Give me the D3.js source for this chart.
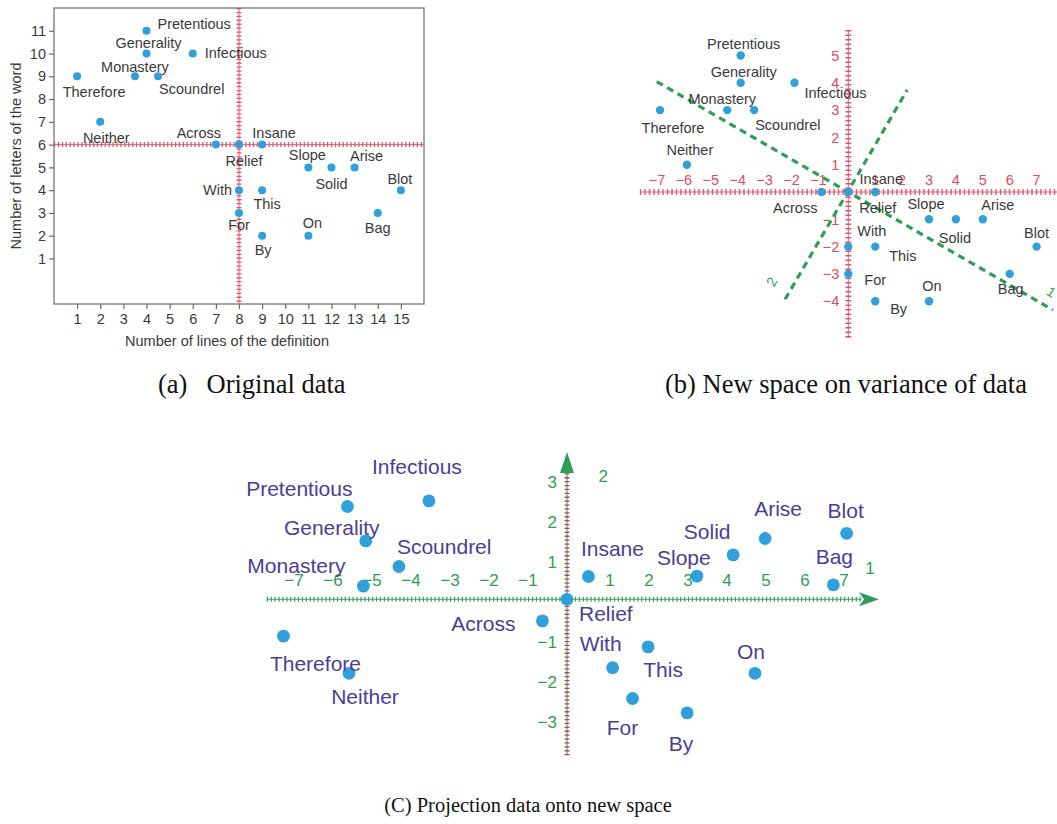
<!DOCTYPE html>
<html>
<head>
<meta charset="utf-8">
<script src="https://cdn.jsdelivr.net/npm/d3@7"></script>
<style>
  body { margin: 0; background: #fff; }
  svg { display: block; }
</style>
</head>
<body>
<svg id="fig" width="1057" height="824"></svg>
<script>
// ---------- data ----------
const words = ["Pretentious", "Generality", "Infectious", "Monastery", "Scoundrel",
  "Therefore", "Neither", "Across", "Relief", "Insane", "Slope", "Solid", "Arise",
  "Blot", "With", "This", "For", "By", "On", "Bag"];

// (a) raw measurements
const definitionLines = [4, 4, 6, 3.5, 4.5, 1, 2, 7, 8, 9, 11, 12, 13, 15, 8, 9, 8, 9, 11, 14];
const wordLetters     = [11, 10, 10, 9, 9, 9, 7, 6, 6, 6, 5, 5, 5, 4, 4, 4, 3, 2, 2, 3];

// (b) mean-centred values
const centredX = [-4, -4, -2, -4.5, -3.5, -7, -6, -1, 0, 1, 3, 4, 5, 7, 0, 1, 0, 1, 3, 6];
const centredY = [5, 4, 4, 3, 3, 3, 1, 0, 0, 0, -1, -1, -1, -2, -2, -2, -3, -4, -4, -3];

// principal directions drawn over (b), as end points in centred units
const pcAxis1 = [[-7.12, 4.04], [7.61, -4.32]];
const pcAxis2 = [[-2.35, -3.93], [2.19, 3.74]];

// (c) projections onto the principal components
const pc1Scores = [-5.63, -5.16, -3.54, -5.22, -4.31, -7.27, -5.59, -0.63, 0, 0.55,
  3.33, 4.26, 5.08, 7.17, 1.17, 2.08, 1.68, 3.08, 4.82, 6.83];
const pc2Scores = [2.32, 1.46, 2.46, 0.33, 0.82, -0.92, -1.85, -0.54, 0, 0.57,
  0.58, 1.11, 1.52, 1.65, -1.71, -1.19, -2.48, -2.84, -1.85, 0.36];

// tick labels
const ticksAX = d3.range(1, 16);
const ticksAY = d3.range(1, 12);
const ticksBX = [-7, -6, -5, -4, -3, -2, -1, 1, 2, 3, 4, 5, 6, 7];
const ticksBY = [-4, -3, -2, -1, 1, 2, 3, 4, 5];
const ticksCX = [-7, -6, -5, -4, -3, -2, -1, 1, 2, 3, 4, 5, 6, 7];
const ticksCY = [-3, -2, -1, 1, 2, 3];

const captions = ["(a)", "Original data", "(b) New space on variance of data",
  "(C) Projection data onto new space"];

// ---------- label placement (anchor, dx, dy) per word ----------
const placeA = {
  Pretentious: ["start", 11, -7], Generality: ["middle", 2, -11], Infectious: ["start", 12, -1],
  Monastery: ["middle", 0, -10], Scoundrel: ["start", 1, 12], Therefore: ["middle", 17, 15],
  Neither: ["middle", 6, 16], Across: ["middle", -17, -12], Relief: ["middle", 5, 16],
  Insane: ["middle", 12, -12], Slope: ["middle", -1, -13], Solid: ["middle", 0, 16],
  Arise: ["middle", 12, -12], Blot: ["middle", -1, -11], With: ["end", -7, 0],
  This: ["middle", 5, 14], For: ["middle", 0, 12], By: ["middle", 1, 14],
  On: ["middle", 4, -13], Bag: ["middle", 0, 15]
};
const placeB = {
  Pretentious: ["middle", 3, -12], Generality: ["middle", 3, -11], Infectious: ["start", 10, 10],
  Monastery: ["middle", -5, -11], Scoundrel: ["start", 1, 15], Therefore: ["middle", 13, 18],
  Neither: ["middle", 3, -15], Across: ["end", -4, 16], Relief: ["start", 11, 16],
  Insane: ["middle", 6, -13], Slope: ["middle", -3, -16], Solid: ["middle", -1, 18],
  Arise: ["middle", 15, -15], Blot: ["middle", 0, -14], With: ["start", 9, -16],
  This: ["start", 14, 9], For: ["start", 16, 6], By: ["start", 15, 8],
  On: ["middle", 3, -15], Bag: ["middle", 1, 15]
};
const placeC = {
  Pretentious: ["end", 5, -18], Generality: ["middle", -34, -13], Infectious: ["middle", -12, -34],
  Monastery: ["end", -18, -21], Scoundrel: ["start", -2, -20], Therefore: ["middle", 32, 27],
  Neither: ["middle", 16, 23], Across: ["end", -27, 3], Relief: ["start", 12, 14],
  Insane: ["middle", 24, -28], Slope: ["middle", -13, -19], Solid: ["middle", -26, -23],
  Arise: ["middle", 13, -30], Blot: ["middle", -1, -23], With: ["start", -33, -24],
  This: ["middle", 15, 23], For: ["middle", -10, 29], By: ["middle", -6, 31],
  On: ["middle", -4, -22], Bag: ["middle", 1, -28]
};

// ---------- styling ----------
const SANS = "'Liberation Sans', Arial, Helvetica, sans-serif";
const SERIF = "'Liberation Serif', 'Times New Roman', serif";
const DOT = "#30a0dc";
const RED = "#e04a62";
const GREEN = "#2f9d55";
const INK = "#3a3a3a";
const PURPLE = "#4a3e98";

const svg = d3.select("#fig");

// a thin line overlaid with dense perpendicular hatch marks
function hatchedLine(g, x1, y1, x2, y2, color, width, dash) {
  g.append("line").attr("x1", x1).attr("y1", y1).attr("x2", x2).attr("y2", y2)
    .attr("stroke", color).attr("stroke-width", 1).attr("opacity", 0.85);
  g.append("line").attr("x1", x1).attr("y1", y1).attr("x2", x2).attr("y2", y2)
    .attr("stroke", color).attr("stroke-width", width)
    .attr("stroke-dasharray", dash).attr("opacity", 0.9);
}

function drawLabels(g, xs, ys, sx, sy, place, size, color) {
  g.selectAll("text.word").data(words).join("text")
    .attr("class", "word")
    .attr("x", (w, i) => sx(xs[i]) + place[w][1])
    .attr("y", (w, i) => sy(ys[i]) + place[w][2])
    .attr("dy", "0.36em")
    .attr("text-anchor", w => place[w][0])
    .attr("font-family", SANS).attr("font-size", size).attr("fill", color)
    .text(w => w);
}

function drawDots(g, xs, ys, sx, sy, r) {
  g.selectAll("circle").data(words).join("circle")
    .attr("cx", (w, i) => sx(xs[i]))
    .attr("cy", (w, i) => sy(ys[i]))
    .attr("r", r).attr("fill", DOT);
}

// ---------- (a) original data ----------
{
  const g = svg.append("g");
  const x = d3.scaleLinear().domain([0, 16]).range([54, 424]);
  const y = d3.scaleLinear().domain([-1, 12]).range([304, 8]);

  g.append("rect").attr("x", x(0)).attr("y", y(12))
    .attr("width", x(16) - x(0)).attr("height", y(-1) - y(12))
    .attr("fill", "none").attr("stroke", "#6a6a6a").attr("stroke-width", 1.2);

  const styleAxis = s => {
    s.select(".domain").remove();
    s.selectAll(".tick line").attr("stroke", "#6a6a6a").attr("stroke-width", 1.2);
    s.selectAll(".tick text").attr("font-family", SANS).attr("font-size", 14.5).attr("fill", INK);
  };
  g.append("g").attr("transform", `translate(0,${y(-1)})`)
    .call(d3.axisBottom(x).tickValues(ticksAX).tickSize(5).tickPadding(5)).call(styleAxis);
  g.append("g").attr("transform", `translate(${x(0)},0)`)
    .call(d3.axisLeft(y).tickValues(ticksAY).tickSize(5).tickPadding(3)).call(styleAxis);

  g.append("text").attr("x", 227).attr("y", 341).attr("dy", "0.36em")
    .attr("text-anchor", "middle").attr("font-family", SANS).attr("font-size", 14.5)
    .attr("fill", INK).text("Number of lines of the definition");
  g.append("text").attr("transform", `translate(16,${(y(-1) + y(12)) / 2}) rotate(-90)`)
    .attr("dy", "0.36em").attr("text-anchor", "middle").attr("font-family", SANS)
    .attr("font-size", 14.5).attr("fill", INK).text("Number of letters of the word");

  // mean lines
  hatchedLine(g, x(0), y(6), x(16), y(6), RED, 5, "1.3,2.6");
  hatchedLine(g, x(8), y(12), x(8), y(-1), RED, 5, "1.3,2.6");

  drawDots(g, definitionLines, wordLetters, x, y, 4);
  drawLabels(g, definitionLines, wordLetters, x, y, placeA, 14.5, INK);
}

// ---------- (b) centred data with principal directions ----------
{
  const g = svg.append("g");
  const ox = 848.3, oy = 192, ux = 26.9, uy = 27.3;
  const x = d3.scaleLinear().domain([-8, 8]).range([ox - 8 * ux, ox + 8 * ux]);
  const y = d3.scaleLinear().domain([-6, 6]).range([oy + 6 * uy, oy - 6 * uy]);

  hatchedLine(g, x(-7.75), y(0), x(7.9), y(0), RED, 6, "1.4,3.1");
  hatchedLine(g, x(0), y(5.93), x(0), y(-5.35), RED, 6, "1.4,3.1");

  g.selectAll("text.tx").data(ticksBX).join("text").attr("class", "tx")
    .attr("x", d => x(d) - (d < 0 ? 3 : 0)).attr("y", y(0) - 12).attr("dy", "0.36em")
    .attr("text-anchor", "middle").attr("font-family", SANS).attr("font-size", 14.5)
    .attr("fill", RED).text(d => d < 0 ? "\u2212" + (-d) : d);
  g.selectAll("text.ty").data(ticksBY).join("text").attr("class", "ty")
    .attr("x", x(0) - 9).attr("y", d => y(d)).attr("dy", "0.36em")
    .attr("text-anchor", "end").attr("font-family", SANS).attr("font-size", 14.5)
    .attr("fill", RED).text(d => d < 0 ? "\u2212" + (-d) : d);

  const line = d3.line().x(d => x(d[0])).y(d => y(d[1]));
  [pcAxis1, pcAxis2].forEach(p => {
    g.append("path").attr("d", line(p)).attr("fill", "none")
      .attr("stroke", GREEN).attr("stroke-width", 3.2).attr("stroke-dasharray", "7,5");
  });
  g.append("text").attr("transform", `translate(${x(-2.85)},${y(-3.28)}) rotate(-60)`)
    .attr("dy", "0.36em").attr("text-anchor", "middle").attr("font-family", SANS)
    .attr("font-size", 14).attr("fill", GREEN).text("2");
  g.append("text").attr("transform", `translate(${x(7.55)},${y(-3.66)}) rotate(30)`)
    .attr("dy", "0.36em").attr("text-anchor", "middle").attr("font-family", SANS)
    .attr("font-size", 14).attr("fill", GREEN).text("1");

  drawDots(g, centredX, centredY, x, y, 4.2);
  drawLabels(g, centredX, centredY, x, y, placeB, 14.5, INK);
}

// ---------- (c) projection onto the new axes ----------
{
  const g = svg.append("g");
  const ox = 567, oy = 599.3, ux = 39, uy = 40;
  const x = d3.scaleLinear().domain([-8, 8]).range([ox - 8 * ux, ox + 8 * ux]);
  const y = d3.scaleLinear().domain([-4, 4]).range([oy + 4 * uy, oy - 4 * uy]);

  hatchedLine(g, x(-7.7), y(0), x(7.55), y(0), GREEN, 5, "1.3,2.6");
  hatchedLine(g, x(0), y(-3.9), x(0), y(3.3), "#8a4c46", 5, "1.3,2.6");

  // arrow heads
  const tipY = y(3.68), tipX = x(8.0);
  g.append("path")
    .attr("d", `M${x(0)},${tipY} L${x(0) - 7},${tipY + 21} L${x(0) + 7},${tipY + 21} Z`)
    .attr("fill", GREEN);
  g.append("path")
    .attr("d", `M${tipX},${y(0)} L${tipX - 20},${y(0) - 7} L${tipX - 15},${y(0)} L${tipX - 20},${y(0) + 7} Z`)
    .attr("fill", GREEN);

  g.selectAll("text.tx").data(ticksCX).join("text").attr("class", "tx")
    .attr("x", d => x(d) + 4 - (d < 0 ? 4 : 0)).attr("y", y(0) - 19).attr("dy", "0.36em")
    .attr("text-anchor", "middle").attr("font-family", SANS).attr("font-size", 17)
    .attr("fill", GREEN).text(d => d < 0 ? "\u2212" + (-d) : d);
  g.selectAll("text.ty").data(ticksCY).join("text").attr("class", "ty")
    .attr("x", x(0) - 10).attr("y", d => y(d) + 3).attr("dy", "0.36em")
    .attr("text-anchor", "end").attr("font-family", SANS).attr("font-size", 17)
    .attr("fill", GREEN).text(d => d < 0 ? "\u2212" + (-d) : d);
  // axis names
  g.append("text").attr("x", x(0.93)).attr("y", y(3.08)).attr("dy", "0.36em")
    .attr("text-anchor", "middle").attr("font-family", SANS).attr("font-size", 17)
    .attr("fill", GREEN).text("2");
  g.append("text").attr("x", x(7.77)).attr("y", y(0.78)).attr("dy", "0.36em")
    .attr("text-anchor", "middle").attr("font-family", SANS).attr("font-size", 17)
    .attr("fill", GREEN).text("1");

  drawDots(g, pc1Scores, pc2Scores, x, y, 6.4);
  drawLabels(g, pc1Scores, pc2Scores, x, y, placeC, 21, PURPLE);
}

// ---------- captions ----------
svg.append("text").attr("x", 158).attr("y", 383).attr("dy", "0.36em")
  .attr("font-family", SERIF).attr("font-size", 26.5).attr("fill", "#111").text(captions[0]);
svg.append("text").attr("x", 206.5).attr("y", 383).attr("dy", "0.36em")
  .attr("font-family", SERIF).attr("font-size", 26.5).attr("fill", "#111").text(captions[1]);
svg.append("text").attr("x", 665).attr("y", 383).attr("dy", "0.36em")
  .attr("font-family", SERIF).attr("font-size", 26.5).attr("fill", "#111").text(captions[2]);
svg.append("text").attr("x", 528).attr("y", 805).attr("dy", "0.36em").attr("text-anchor", "middle")
  .attr("font-family", SERIF).attr("font-size", 20.5).attr("fill", "#111").text(captions[3]);
</script>
</body>
</html>
